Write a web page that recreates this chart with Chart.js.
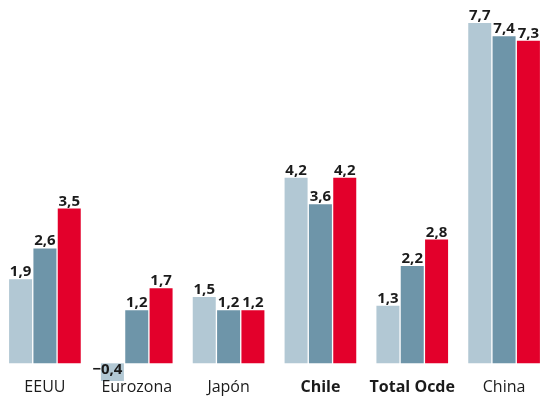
<!DOCTYPE html>
<html>
<head>
<meta charset="utf-8">
<script src="https://cdn.jsdelivr.net/npm/chart.js@4"></script>
<style>
  html, body { margin: 0; padding: 0; background: #fff; overflow: hidden; }
  #wrap { position: absolute; left: -1px; top: 0; width: 551px; height: 398px; }
</style>
</head>
<body>
<div id="wrap"><canvas id="growthChart"></canvas></div>
<script>
// ── Data ──
const categories = ['EEUU', 'Eurozona', 'Japón', 'Chile', 'Total Ocde', 'China'];
const boldCategories = ['Chile', 'Total Ocde'];
const series2013 = [1.9, -0.4, 1.5, 4.2, 1.3, 7.7];
const series2014 = [2.6, 1.2, 1.2, 3.6, 2.2, 7.4];
const series2015 = [3.5, 1.7, 1.2, 4.2, 2.8, 7.3];

const COLORS = ['#b2c8d4', '#6e95a9', '#e3002b'];
const FONT = "'Open Sans', 'Noto Sans', sans-serif";

// ── Value labels + category labels ──
const textLayer = {
  id: 'textLayer',
  afterDatasetsDraw(chart) {
    const ctx = chart.ctx;
    const x = chart.scales.x;
    const zero = chart.scales.y.getPixelForValue(0);
    ctx.save();
    ctx.fillStyle = '#1b1b1b';
    ctx.textAlign = 'center';
    ctx.textBaseline = 'alphabetic';

    // numbers on the bars
    ctx.font = 'bold 15px ' + FONT;
    chart.data.datasets.forEach((ds, i) => {
      chart.getDatasetMeta(i).data.forEach((bar, j) => {
        const v = ds.data[j];
        const txt = (v < 0 ? '−' : '') + Math.abs(v).toFixed(1).replace('.', ',');
        if (v >= 0) ctx.fillText(txt, bar.x, bar.y - 3);
        else ctx.fillText(txt, bar.x - 5, zero + 11);
      });
    });

    // category names under the groups
    categories.forEach((c, i) => {
      ctx.font = (boldCategories.includes(c) ? 'bold ' : '') + '16px ' + FONT;
      ctx.fillText(c, x.getPixelForValue(i), chart.chartArea.bottom + 11);
    });
    ctx.restore();
  }
};

new Chart(document.getElementById('growthChart'), {
  type: 'bar',
  data: {
    labels: categories,
    datasets: [series2013, series2014, series2015].map((d, i) => ({
      data: d,
      backgroundColor: COLORS[i],
      borderWidth: 0,
      categoryPercentage: 0.795,
      barPercentage: 0.945
    }))
  },
  options: {
    responsive: true, maintainAspectRatio: false, animation: false,
    layout: { padding: { bottom: 17 } },
    plugins: { legend: { display: false }, tooltip: { enabled: false } },
    scales: {
      y: { display: false, min: -0.4, max: 8.22 },
      x: { display: false }
    }
  },
  plugins: [textLayer]
});
</script>
</body>
</html>
